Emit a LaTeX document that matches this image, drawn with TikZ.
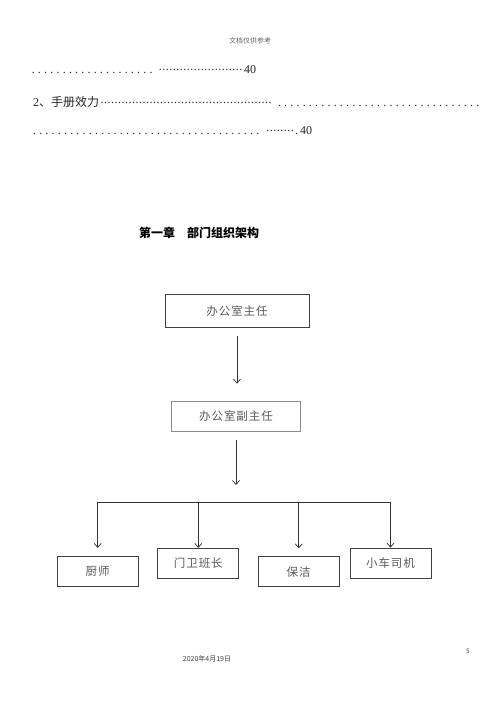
\documentclass[tikz,border=0pt]{standalone}
\usepackage{fontspec}
\setmainfont{Liberation Serif}
\newfontfamily\cjk{Noto Sans CJK SC}
\newfontfamily\cjkwide[LetterSpace=8]{Noto Sans CJK SC}
\newfontfamily\calibri{Carlito}
\usetikzlibrary{arrows.meta,positioning}

% leader dots for the contents lines
\newcommand\sparsedots[1]{\hbox to #1{\cleaders\hbox to 6.2pt{\hss.\hss}\hfill}}
\newcommand\densedots[1]{\hbox to #1{\cleaders\hbox to 3.5pt{\hss\raisebox{3pt}{.}\hss}\hfill}}

\begin{document}
\begin{tikzpicture}[
  x=1pt, y=-1pt,
  >={Straight Barb[length=4pt,width=7pt]},
  orgbox/.style={draw=black!75, line width=0.7pt, minimum width=81pt, minimum height=30pt, inner sep=0pt, text=black!65, font=\cjkwide\fontsize{11.5}{13}\selectfont},
  link/.style={line width=0.7pt, draw=black!80},
  arr/.style={link, ->},
  toc/.style={anchor=base west, inner sep=0pt, text=black!85, font=\fontsize{12}{14}\selectfont}
]
\fill[white] (0,0) rectangle (500,707);
\useasboundingbox (0,0) rectangle (500,707);

% ----- page header and contents lines
\node[font=\cjk\fontsize{7}{8}\selectfont, text=black!60] (header) at (250,41) {文档仅供参考};
\node[toc] (toc1) at (30,73.5) {\sparsedots{124pt}\hspace{3pt}\densedots{87pt}40};
\node[toc] (toc2) at (33,106.5) {2{\cjk 、手册效力}\densedots{174pt}\hspace{2pt}\sparsedots{207pt}};
\node[toc] (toc3) at (30,134.5) {\sparsedots{232pt}\hspace{3pt}\densedots{30pt}.\,40};

% ----- chapter title
\node[anchor=west, inner sep=0pt, font=\cjk\bfseries\fontsize{12}{14}\selectfont] (chapter) at (139,233) {第一章　部门组织架构};

% ----- org chart
\node[orgbox, minimum width=144pt, minimum height=33pt] (chief) at (237,311) {办公室主任};
\node[orgbox, draw=black!45, minimum width=128.6pt] (deputy) at (236,416) {办公室副主任};

\node[orgbox] (cook)    at (97.7,571.3)  {厨师};
\node[orgbox] (guard)   at (198.3,563.3) {门卫班长};
\node[orgbox] (cleaner) at (298.7,571.7) {保洁};
\node[orgbox] (driver)  at (390.5,563)   {小车司机};

\draw[arr, shorten <=8.5pt, shorten >=17pt] (chief.south) -- (chief.south |- deputy.north);

\coordinate (split) at (238,485);
\coordinate (bus) at (238,502);
\draw[arr, shorten <=9pt] (deputy.south) -- (deputy.south |- split);

\draw[link] (cook.north |- bus) -- (driver.north |- bus);
\foreach \n/\g in {cook/8pt, guard/0pt, cleaner/8pt, driver/0pt}
  \draw[arr, shorten >=\g] (\n.north |- bus) -- (\n.north);

% ----- page footer
\node[font=\cjk\fontsize{7}{8}\selectfont, text=black!75] (date) at (207,659) {2020年4月19日};
\node[font=\calibri\fontsize{7}{8}\selectfont, text=black!75] (pageno) at (468,651) {5};
\end{tikzpicture}
\end{document}
